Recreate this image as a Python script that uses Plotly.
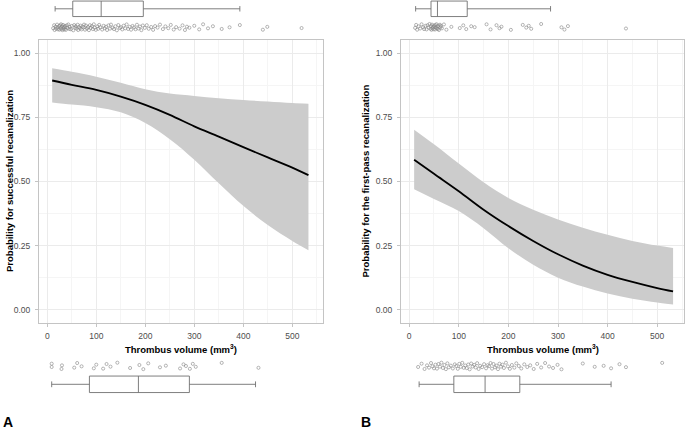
import plotly.graph_objects as go

W, H = 685, 429

# ---------------- data ----------------
vol_grid_A = [10, 50, 100, 150, 200, 250, 300, 350, 400, 450, 500, 533]
fit_A   = [0.894, 0.877, 0.857, 0.831, 0.799, 0.760, 0.715, 0.675, 0.634, 0.594, 0.554, 0.525]
upper_A = [0.942, 0.928, 0.909, 0.885, 0.860, 0.843, 0.834, 0.825, 0.818, 0.812, 0.806, 0.803]
lower_A = [0.808, 0.800, 0.790, 0.770, 0.728, 0.665, 0.585, 0.493, 0.405, 0.330, 0.268, 0.232]

vol_grid_B = [10, 50, 100, 150, 200, 250, 300, 350, 400, 450, 500, 532]
fit_B   = [0.585, 0.530, 0.462, 0.390, 0.326, 0.268, 0.216, 0.172, 0.136, 0.108, 0.084, 0.071]
upper_B = [0.702, 0.645, 0.570, 0.497, 0.436, 0.390, 0.352, 0.320, 0.292, 0.268, 0.250, 0.241]
lower_B = [0.470, 0.432, 0.385, 0.318, 0.240, 0.175, 0.125, 0.090, 0.063, 0.043, 0.028, 0.020]

# marginal observations (thrombus volume, mm3)
top_A_vol = [12, 14, 15, 17, 18, 20, 21, 22, 24, 25, 26, 27, 28, 29, 30, 31, 32, 33, 34, 35,
             36, 37, 38, 40, 41, 43, 45, 46, 48, 50, 53, 55, 57, 58, 60, 62, 63, 65, 67, 68,
             70, 72, 74, 75, 77, 79, 81, 83, 85, 87, 89, 91, 93, 95, 97, 99, 102, 104, 106, 108,
             112, 115, 117, 120, 122, 125, 128, 130, 133, 136, 139, 142, 145, 148, 150, 153, 156, 159, 162, 165,
             168, 171, 174, 177, 180, 183, 186, 189, 192, 195, 199, 203, 207, 212, 216, 220, 225, 230, 236, 241,
             247, 252, 258, 263, 270, 276, 281, 285, 290, 300, 310, 318, 328, 338, 356, 372, 393, 440, 449, 519]
bot_A_vol = [9, 9, 29, 30, 55, 61, 70, 95, 100, 114, 121, 129, 143, 169, 188, 196, 206, 230, 242,
             271, 278, 283, 291, 297, 303, 356, 431]
top_B_vol = [12, 14, 16, 19, 22, 25, 28, 30, 33, 35, 37, 39, 41, 43, 44, 45, 46, 47, 48, 49,
             50, 51, 52, 53, 54, 55, 56, 57, 58, 59, 60, 62, 63, 64, 66, 70, 75, 85, 102, 109,
             115, 125, 132, 156, 164, 176, 182, 186, 205, 229, 236, 241, 246, 266, 307, 313, 320, 437]
bot_B_vol = [18, 25, 31, 36, 40, 44, 47, 50, 53, 56, 59, 62, 65, 68, 71, 74, 77, 80, 84, 88,
             92, 95, 98, 101, 104, 107, 110, 113, 116, 119, 122, 125, 128, 131, 134, 137, 140, 143, 147, 151,
             155, 158, 161, 164, 167, 170, 173, 176, 179, 182, 185, 188, 191, 195, 199, 203, 207, 212, 216, 221,
             226, 232, 238, 244, 251, 258, 266, 274, 282, 290, 299, 307, 350, 374, 392, 407, 424, 437, 510]
jitter = [0.3, -0.7, 0.9, -0.2, 0.5, -0.9, 0.1, 0.7, -0.4, 0.8, -0.6, 0.2, -1.0, 0.6, -0.3, 0.95, -0.8, 0.4, -0.1, 0.75,
          -0.5, 0.0, 0.85, -0.65, 0.25, -0.95, 0.55, -0.15, 0.65, -0.45, 1.0, -0.75, 0.15, -0.35, 0.45, -0.85, 0.9, -0.05, 0.35, -0.55,
          0.7, -0.25, 0.05, -0.9, 0.8, -0.6, 0.4, -0.1, 0.95, -0.7, 0.2, -0.4, 0.6, -1.0, 0.1, 0.85, -0.3, 0.5, -0.8, 0.0,
          0.75, -0.5, 0.3, -0.2, 0.9, -0.65, 0.45, -0.9, 0.15, 0.6, -0.35, 1.0, -0.75, 0.25, -0.05, 0.7, -0.55, 0.35, -0.95, 0.55,
          -0.15, 0.8, -0.45, 0.05, 0.65, -0.85, 0.4, -0.25, 0.95, -0.6, 0.2, -0.7, 0.5, -0.1, 0.85, -0.4, 0.1, -0.9, 0.6, -0.3,
          0.3, -0.8, 0.75, -0.05, 0.45, -0.65, 0.9, -0.2, 0.15, -0.5, 0.7, -1.0, 0.35, -0.35, 0.55, 0.0, -0.75, 0.8, -0.15, 0.25]

# boxplot summaries (lowerfence, q1, median, q3, upperfence)
box_top_A = [16, 52, 110, 196, 393]
box_bot_A = [9, 86, 186, 290, 425]
box_top_B = [13, 44, 57, 117, 285]
box_bot_B = [20, 90, 153, 223, 407]

x_ticks = [0, 100, 200, 300, 400, 500]
y_ticks = [0.0, 0.25, 0.5, 0.75, 1.0]
y_tick_text = ["0.00", "0.25", "0.50", "0.75", "1.00"]

# ---------------- layout helpers ----------------
def px_x(a, b):
    return [a / W, b / W]

def px_y(top, bot):
    return [1 - bot / H, 1 - top / H]

FONT = "Liberation Sans, Arial, sans-serif"
TICK_COL = "#4d4d4d"
BAND = "#cccccc"
BOXLINE = "#707070"
PTCOL = "#858585"

fig = go.Figure()

panels = [
    dict(x="x", y="y", grid=vol_grid_A, fit=fit_A, up=upper_A, lo=lower_A),
    dict(x="x2", y="y2", grid=vol_grid_B, fit=fit_B, up=upper_B, lo=lower_B),
]
for p in panels:
    fig.add_trace(go.Scatter(x=p["grid"], y=p["lo"], mode="lines",
                             line=dict(width=0, shape="spline", color=BAND),
                             xaxis=p["x"], yaxis=p["y"], hoverinfo="skip", showlegend=False))
    fig.add_trace(go.Scatter(x=p["grid"], y=p["up"], mode="lines", fill="tonexty", fillcolor=BAND,
                             line=dict(width=0, shape="spline", color=BAND),
                             xaxis=p["x"], yaxis=p["y"], hoverinfo="skip", showlegend=False))
    fig.add_trace(go.Scatter(x=p["grid"], y=p["fit"], mode="lines",
                             line=dict(color="black", width=1.8, shape="spline"),
                             xaxis=p["x"], yaxis=p["y"], showlegend=False))

# strips: (xaxis, yaxis, volumes, box stats, box centre px, box width px, point centre px, point half-height px)
strips = [
    ("x3", "y3", top_A_vol, box_top_A, 8.8, 15.5, 27.3, 3.0),
    ("x4", "y4", bot_A_vol, box_bot_A, 384.3, 16.5, 366.0, 3.3),
    ("x5", "y5", top_B_vol, box_top_B, 8.8, 15.5, 27.0, 3.0),
    ("x6", "y6", bot_B_vol, box_bot_B, 384.3, 16.5, 366.0, 3.3),
]
for xa, ya, vols, bs, bc, bw, pc, ph in strips:
    fig.add_trace(go.Box(orientation="h", y=[bc], lowerfence=[bs[0]], q1=[bs[1]], median=[bs[2]],
                         q3=[bs[3]], upperfence=[bs[4]], width=bw, whiskerwidth=0.35,
                         fillcolor="white", line=dict(color=BOXLINE, width=0.9),
                         boxpoints=False, xaxis=xa, yaxis=ya, showlegend=False, hoverinfo="skip"))
    fig.add_trace(go.Scatter(x=vols, y=[pc + ph * j for j in jitter[:len(vols)]], mode="markers",
                             marker=dict(symbol="circle-open", size=3.1, color=PTCOL,
                                         line=dict(width=0.6, color=PTCOL)),
                             xaxis=xa, yaxis=ya, showlegend=False))

A_dom = px_x(39, 323)
B_dom = px_x(401, 684)
main_ydom = px_y(40, 323)
A_range = [-16.9, 562.7]
B_range = [-16.5, 554]

def main_x(dom, rng, anchor):
    return dict(domain=dom, range=rng, anchor=anchor, tickvals=x_ticks, ticktext=[str(t) for t in x_ticks],
                showgrid=True, gridcolor="#ebebeb", gridwidth=1, zeroline=False,
                showline=True, mirror=True, linecolor="#c4c4c4", linewidth=1,
                ticks="outside", ticklen=3, tickcolor="#c4c4c4", ticklabelstandoff=2,
                tickfont=dict(family=FONT, size=8.5, color=TICK_COL),
                minor=dict(dtick=50, tick0=50, showgrid=True, gridcolor="#f5f5f5", gridwidth=0.6, ticks=""))

def main_y(anchor):
    return dict(domain=main_ydom, range=[-0.052, 1.052], anchor=anchor, tickvals=y_ticks, ticktext=y_tick_text,
                showgrid=True, gridcolor="#ebebeb", gridwidth=1, zeroline=False,
                showline=True, mirror=True, linecolor="#c4c4c4", linewidth=1,
                ticks="outside", ticklen=3, tickcolor="#c4c4c4", ticklabelstandoff=3,
                tickfont=dict(family=FONT, size=8.5, color=TICK_COL),
                minor=dict(dtick=0.125, tick0=0.125, showgrid=True, gridcolor="#f5f5f5", gridwidth=0.6, ticks=""))

def hid(**kw):
    d = dict(visible=False, showgrid=False, zeroline=False, fixedrange=True)
    d.update(kw)
    return d

fig.update_layout(
    width=W, height=H, margin=dict(l=0, r=0, t=0, b=0),
    paper_bgcolor="white", plot_bgcolor="white",
    font=dict(family=FONT),
    xaxis=main_x(A_dom, A_range, "y"),
    yaxis=main_y("x"),
    xaxis2=main_x(B_dom, B_range, "y2"),
    yaxis2=main_y("x2"),
    xaxis3=hid(domain=A_dom, range=A_range, anchor="y3"),
    yaxis3=hid(domain=px_y(0, 34), range=[34, 0], anchor="x3"),
    xaxis4=hid(domain=A_dom, range=A_range, anchor="y4"),
    yaxis4=hid(domain=px_y(356, 397), range=[397, 356], anchor="x4"),
    xaxis5=hid(domain=B_dom, range=B_range, anchor="y5"),
    yaxis5=hid(domain=px_y(0, 34), range=[34, 0], anchor="x5"),
    xaxis6=hid(domain=B_dom, range=B_range, anchor="y6"),
    yaxis6=hid(domain=px_y(356, 397), range=[397, 356], anchor="x6"),
    showlegend=False,
)

title_font = dict(family=FONT, size=9.5, color="black")
ann = [
    dict(text="<b>Thrombus volume (mm<sup>3</sup>)</b>", x=181 / W, y=1 - 349 / H),
    dict(text="<b>Thrombus volume (mm<sup>3</sup>)</b>", x=542.5 / W, y=1 - 349 / H),
    dict(text="<b>Probability for successful recanalization</b>", x=9 / W, y=1 - 181 / H, textangle=-90),
    dict(text="<b>Probability for the first-pass recanalization</b>", x=364.5 / W, y=1 - 181 / H, textangle=-90),
]
for a in ann:
    fig.add_annotation(xref="paper", yref="paper", xanchor="center", yanchor="middle",
                       showarrow=False, font=title_font, **a)
for lbl, xc in [("A", 7.5), ("B", 366)]:
    fig.add_annotation(text=f"<b>{lbl}</b>", xref="paper", yref="paper", x=xc / W, y=1 - 422 / H,
                       xanchor="center", yanchor="middle", showarrow=False,
                       font=dict(family=FONT, size=14, color="black"))

fig.write_html("out.html", config={"displayModeBar": False},
               post_script="document.body.style.margin='0';document.body.style.overflow='hidden';")
